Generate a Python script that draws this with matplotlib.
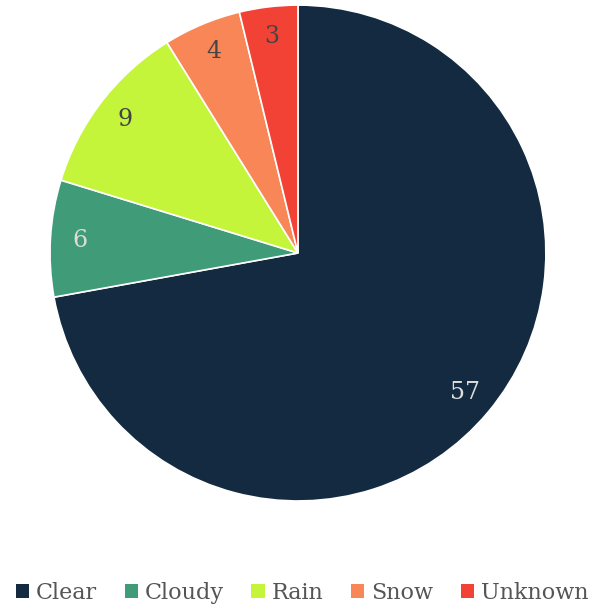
import matplotlib.pyplot as plt
from matplotlib.patches import Patch

# condiciones del clima y cantidad de registros
categorias = ['Clear', 'Cloudy', 'Rain', 'Snow', 'Unknown']
valores = [57, 6, 9, 4, 3]
colores = ['#132a40', '#3f9b78', '#c5f53a', '#f88657', '#f24236']
color_texto = ['#dddddd', '#dddddd', '#444444', '#444444', '#444444']

plt.rcParams['font.family'] = ['DejaVu Serif']

fig = plt.figure(figsize=(6.04, 6.10), dpi=100)
ax = fig.add_axes([0.0828, 0.1787, 0.821, 0.813])

wedges, textos = ax.pie(valores, colors=colores, startangle=90, counterclock=False,
                        labels=[str(v) for v in valores], labeldistance=0.88,
                        wedgeprops=dict(edgecolor='white', linewidth=1.2),
                        textprops=dict(fontsize=17))
for t, c in zip(textos, color_texto):
    t.set_color(c)
    t.set_horizontalalignment('center')
    t.set_verticalalignment('center')

ax.set_xlim(-1, 1)
ax.set_ylim(-1, 1)
ax.set_aspect('equal')

# leyenda abajo con cuadraditos
handles = [Patch(facecolor=c, edgecolor='none') for c in colores]
fig.legend(handles, categorias, loc='center', bbox_to_anchor=(0.5, 0.028), ncol=5,
           frameon=False, fontsize=16, labelcolor='#555555',
           handlelength=0.6, handleheight=0.6, handletextpad=0.3, columnspacing=1.25)

fig.savefig('out.png', dpi=100)
